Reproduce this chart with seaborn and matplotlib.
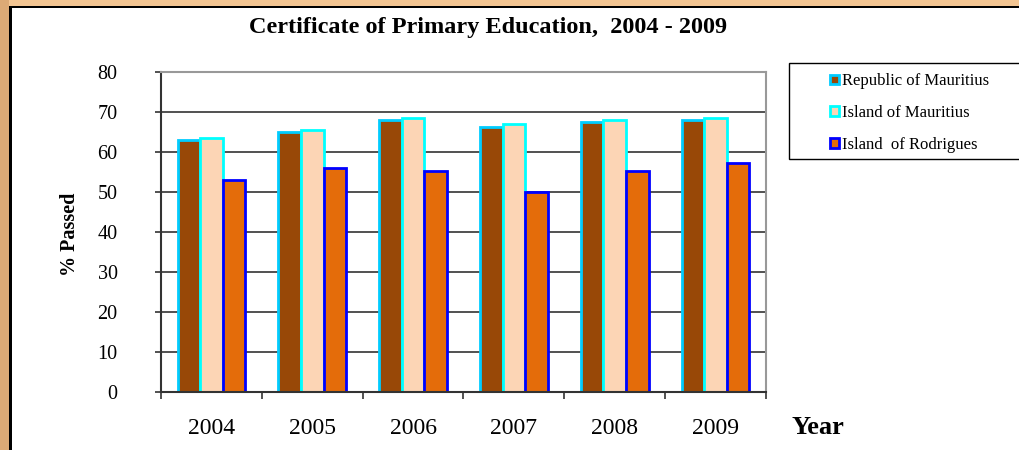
import pandas as pd
import matplotlib
matplotlib.use("Agg")
import matplotlib.pyplot as plt
import seaborn as sns
from matplotlib.patches import Rectangle, Patch

years = ["2004", "2005", "2006", "2007", "2008", "2009"]
republic = [63.0, 65.1, 68.0, 66.3, 67.4, 68.0]
island_mauritius = [63.4, 65.4, 68.6, 67.0, 68.0, 68.6]
rodrigues = [53.0, 56.1, 55.2, 49.9, 55.3, 57.2]
series = ["Republic of Mauritius", "Island of Mauritius", "Island  of Rodrigues"]

fills = ["#984807", "#fcd5b5", "#e46c0a"]
edges = ["#00ccff", "#00ffff", "#0000ff"]

df = pd.DataFrame({
    "Year": years * 3,
    "Passed": republic + island_mauritius + rodrigues,
    "Series": [series[0]] * 6 + [series[1]] * 6 + [series[2]] * 6,
})

sns.set_style("white")
plt.rcParams["font.family"] = ["Liberation Serif", "DejaVu Serif"]
plt.rcParams["text.color"] = "black"
plt.rcParams["xtick.color"] = "black"
plt.rcParams["ytick.color"] = "black"

W, H = 1020, 450
fig = plt.figure(figsize=(W / 100, H / 100), dpi=100)
ax = fig.add_axes([161 / W, 1 - 392 / H, (766 - 161) / W, (392 - 72) / H])

sns.barplot(data=df, x="Year", y="Passed", hue="Series", palette=fills,
            width=0.67, ax=ax, legend=False, saturation=1)

for cont, ec in zip(ax.containers, edges):
    for bar in cont:
        bar.set_edgecolor(ec)
        bar.set_linewidth(2)

ax.set_ylim(0, 80)
ax.set_xlim(-0.5, 5.5)
ax.set_yticks(range(0, 81, 10))
ax.yaxis.grid(True, color="#333333", linewidth=1.2)
ax.set_axisbelow(True)
ax.tick_params(axis="y", labelsize=14.5, length=4.3, width=1.2, pad=27,
               direction="out", colors="black", color="#333333")
ax.tick_params(axis="x", which="major", labelsize=17, length=0, pad=19,
               labelcolor="black")
ax.set_xticks([i + 0.5 for i in range(-1, 6)], minor=True)
ax.tick_params(axis="x", which="minor", length=5, width=1.2, direction="out",
               color="#333333")
ax.tick_params(left=True, bottom=True, which="both")

for side in ["left", "bottom"]:
    ax.spines[side].set_color("#333333")
    ax.spines[side].set_linewidth(1.5)
for side in ["top", "right"]:
    ax.spines[side].set_color("#999999")
    ax.spines[side].set_linewidth(1.5)

ax.set_xlabel("")
ax.set_ylabel("")
fig.text(70 / W, 1 - 234 / H, "% Passed", rotation=90, ha="center", va="center",
         fontsize=14.5, fontweight="bold")

fig.text(488 / W, 1 - 28 / H, "Certificate of Primary Education,  2004 - 2009",
         ha="center", va="center", fontsize=17.5, fontweight="bold")
fig.text(818 / W, 1 - 427 / H, "Year", ha="center", va="center",
         fontsize=19, fontweight="bold")

# legend box
fig.add_artist(Rectangle((789 / W, 1 - 159 / H), 260 / W, 96 / H,
                         transform=fig.transFigure, facecolor="white",
                         edgecolor="black", linewidth=1))
handles = [Patch(facecolor=f, edgecolor=e, linewidth=2) for f, e in zip(fills, edges)]
fig.legend(handles, series, loc="upper left",
           bbox_to_anchor=(822 / W, 1 - 65 / H), frameon=False,
           fontsize=12, handlelength=0.5, handleheight=0.5,
           handletextpad=0.2, labelspacing=0.95, borderpad=0)

# frame of the original picture
fig.add_artist(Rectangle((0, 1 - 6 / H), 1, 6 / H, transform=fig.transFigure,
                         facecolor="#f3c592", edgecolor="none"))
fig.add_artist(Rectangle((0, 0), 9 / W, 1, transform=fig.transFigure,
                         facecolor="#dcaa76", edgecolor="none"))
fig.add_artist(Rectangle((9 / W, 0), 3 / W, 1 - 6 / H, transform=fig.transFigure,
                         facecolor="black", edgecolor="none"))
fig.add_artist(Rectangle((9 / W, 1 - 8 / H), 1, 2.5 / H, transform=fig.transFigure,
                         facecolor="black", edgecolor="none"))

fig.savefig("out.png", dpi=100)
